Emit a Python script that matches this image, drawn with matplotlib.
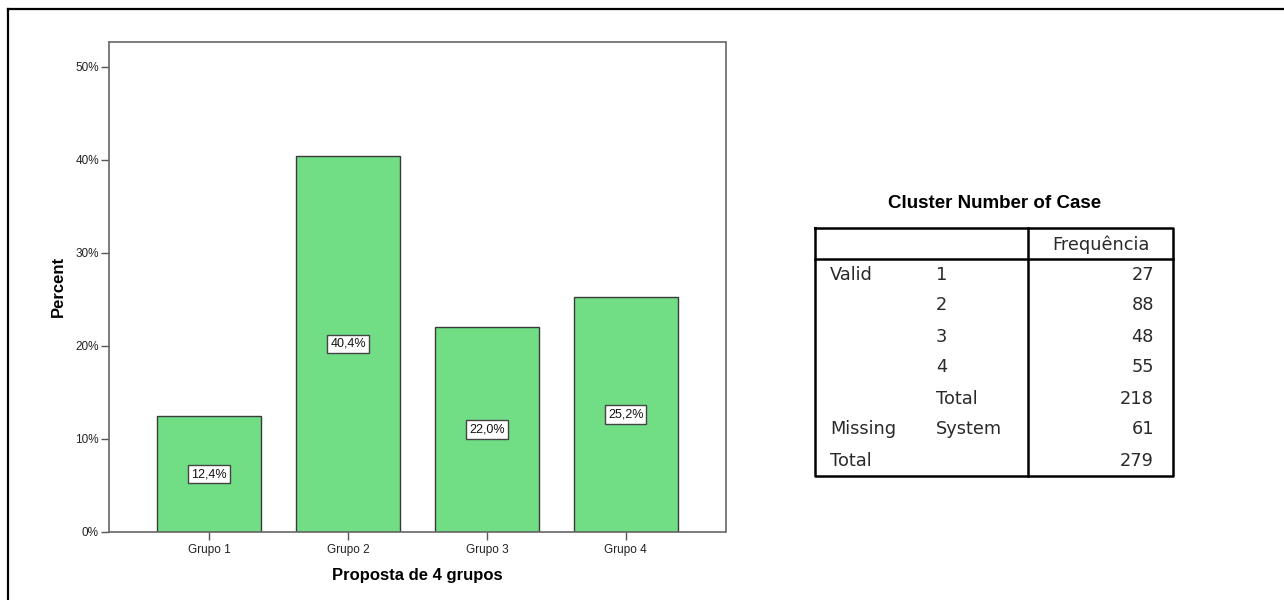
import matplotlib
matplotlib.use('Agg')
import matplotlib.pyplot as plt
from matplotlib.lines import Line2D

# chart data
groups = ['Grupo 1', 'Grupo 2', 'Grupo 3', 'Grupo 4']
percents = [12.4, 40.4, 22.0, 25.2]
yticks = [0, 10, 20, 30, 40, 50]

# table data
tbl_title = 'Cluster Number of Case'
tbl_header = 'Frequência'
tbl_col1 = ['Valid', '', '', '', '', 'Missing', 'Total']
tbl_col2 = ['1', '2', '3', '4', 'Total', 'System', '']
tbl_freq = [27, 88, 48, 55, 218, 61, 279]

plt.rcParams['font.family'] = ['Liberation Sans', 'DejaVu Sans']

W, H = 1284, 600
fig = plt.figure(figsize=(W / 100, H / 100), dpi=100)

# bar chart
ax = fig.add_axes([108.7 / W, 1 - 531.7 / H, (725.5 - 108.7) / W, (531.7 - 41.7) / H])
x = range(len(groups))
ax.bar(x, percents, width=0.75, color='#71dd85', edgecolor='#3a3a3a', linewidth=1.0, zorder=2)
for xi, p in zip(x, percents):
    lbl = f'{p:.1f}%'.replace('.', ',')
    ax.text(xi, p / 2, lbl, ha='center', va='center', fontsize=9, color='#111111', zorder=3,
            bbox=dict(boxstyle='square,pad=0.25', facecolor='white', edgecolor='#444444', linewidth=1.0))
ax.set_xlim(-0.725, 3.72)
ax.set_ylim(0, 52.7)
ax.set_xticks(list(x))
ax.set_xticklabels(groups, fontsize=8.5, color='#222222')
ax.set_yticks(yticks)
ax.set_yticklabels([f'{t}%' for t in yticks], fontsize=8.5, color='#222222')
ax.tick_params(direction='out', length=5.5, width=1.0, color='#555555', pad=1.5)
ax.tick_params(axis='x', pad=3)
for s in ax.spines.values():
    s.set_color('#666666')
    s.set_linewidth(1.2)
ax.set_ylabel('Percent', fontsize=12, fontweight='bold', labelpad=7)
ax.set_xlabel('Proposta de 4 grupos', fontsize=12, fontweight='bold', labelpad=9)

# overlay in pixel coordinates for frame and table
ov = fig.add_axes([0, 0, 1, 1], facecolor='none')
ov.set_xlim(0, W)
ov.set_ylim(H, 0)
ov.axis('off')

# outer frame (top and left edges visible)
ov.add_line(Line2D([8, W], [9, 9], color='black', linewidth=1.6))
ov.add_line(Line2D([8, 8], [9, H], color='black', linewidth=1.6))

# table
tl, tr, tt = 815, 1173, 228
hdr_h, row_h = 31, 31
tb = tt + hdr_h + row_h * len(tbl_freq)
div_x = 1028
lw = 1.8
ov.add_line(Line2D([tl, tr, tr, tl, tl], [tt, tt, tb, tb, tt], color='black', linewidth=lw))
ov.add_line(Line2D([div_x, div_x], [tt, tb], color='black', linewidth=lw))
ov.add_line(Line2D([tl, tr], [tt + hdr_h, tt + hdr_h], color='black', linewidth=lw))

ov.text((tl + tr) / 2 + 1, 203, tbl_title, ha='center', va='center', fontsize=13.5, fontweight='bold')
fs = 12.8
tc = '#2a2a2a'
ov.text(1150, tt + hdr_h / 2 + 1, tbl_header, ha='right', va='center', fontsize=fs, family='DejaVu Sans', color=tc)
for i, (c1, c2, f) in enumerate(zip(tbl_col1, tbl_col2, tbl_freq)):
    yc = tt + hdr_h + row_h * (i + 0.5)
    ov.text(830, yc, c1, ha='left', va='center', fontsize=fs, family='DejaVu Sans', color=tc)
    ov.text(936, yc, c2, ha='left', va='center', fontsize=fs, family='DejaVu Sans', color=tc)
    ov.text(1154, yc, str(f), ha='right', va='center', fontsize=fs, family='DejaVu Sans', color=tc)

fig.savefig('out.png', dpi=100)
